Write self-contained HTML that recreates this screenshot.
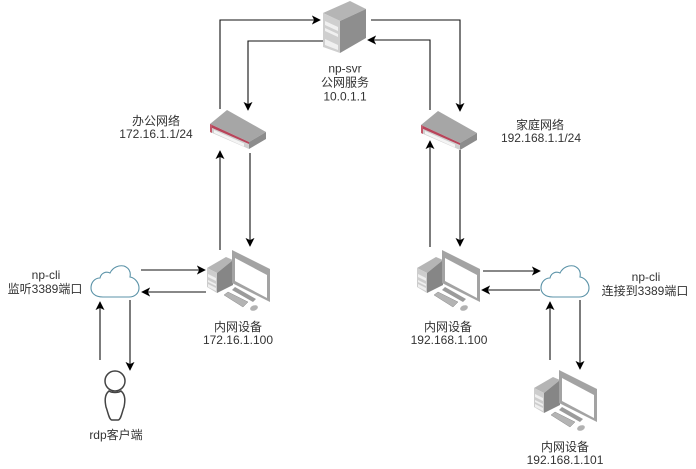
<!DOCTYPE html>
<html>
<head>
<meta charset="utf-8">
<style>
html,body{margin:0;padding:0;background:#fff;width:696px;height:469px;overflow:hidden}
svg{display:block;filter:blur(.3px)}
text{font-family:"Liberation Sans","Noto Sans CJK SC",sans-serif;font-size:12px;fill:#333;text-anchor:middle}
.l{fill:none;stroke:#111;stroke-width:1.1}
</style>
</head>
<body>
<svg width="696" height="469" viewBox="0 0 696 469" xmlns="http://www.w3.org/2000/svg">
<defs>
<marker id="a" viewBox="0 0 10 10" refX="9" refY="5" markerWidth="9" markerHeight="9" markerUnits="userSpaceOnUse" orient="auto">
<path d="M0 0L10 5L0 10L2.5 5Z" fill="#000"/>
</marker>
<g id="router">
<path d="M0 14L17 0L56 22L39 32Z" fill="#a6a6a6"/>
<path d="M0 14L39 32V39L0 22Z" fill="#d0d0d0"/>
<path d="M39 32L56 22V29L39 39Z" fill="#8c8c8c"/>
<path d="M0 14L39 32V34L0 17Z" fill="#b8445a"/>
<path d="M0 14V22L2 23V15Z" fill="#c4596a"/>
<path d="M4 20L34 33.5V36.5L4 23Z" fill="#f4f4f4"/>
</g>
<g id="pc">
<path d="M-25 18L-6 7L1 10L-15 23Z" fill="#b5b5b5"/>
<path d="M-25 18L-15 23V43L-25 37Z" fill="#cdcdcd"/>
<path d="M-15 23L1 10V35L-15 43Z" fill="#868686"/>
<path d="M-24 24L-16 28V31L-24 27ZM-24 30L-16 34V36L-24 32ZM-24 34L-16 38V41L-24 37Z" fill="#efefef"/>
<path d="M0 0L38 19V52L0 33Z" fill="#a3a3a3"/>
<path d="M3 8L35 25V48L3 31Z" fill="#fff"/>
<path d="M3 37L24 49L21 52L0 40Z" fill="#9b9b9b"/>
<path d="M-8 45L-4 42L16 52L11 57Z" fill="#b4b4b4" stroke="#8c8c8c" stroke-width=".5"/>
<ellipse cx="22" cy="58" rx="4" ry="2.6" fill="#b2b2b2" transform="rotate(-20 22 58)"/>
</g>
<path id="cloud" d="M12 32C3 32 0 27 0 23C0 17 4 13 9 13C10 8 15 6 19 8C22 2 28 0 33 1C38 3 40 7 39 12C45 13 48 19 48 23C48 28 44 32 38 32Z" fill="#fff" stroke="#5b93a8" stroke-width="1.1"/>
</defs>

<use href="#router" x="210" y="110"/>
<use href="#router" x="421" y="111"/>

<path d="M323 13L350 1L366 9L340 21Z" fill="#b5b5b5"/>
<path d="M323 13L340 21V53L323 47Z" fill="#cfcfcf"/>
<path d="M340 21L366 9V38L340 53Z" fill="#8e8e8e"/>
<path d="M325 21L338 27V31L325 25ZM325 28L338 34V37L325 31ZM325 39L338 45V50L325 45Z" fill="#f0f0f0"/>

<use href="#pc" x="232" y="250"/>
<use href="#pc" x="442" y="250"/>
<use href="#pc" x="559" y="370"/>

<use href="#cloud" x="91" y="265"/>
<use href="#cloud" x="541" y="265"/>

<circle cx="115" cy="381" r="10" fill="#fff" stroke="#444" stroke-width="1.5"/>
<path d="M109 391C104 395 105 402 106 407C108 412 109 420 112 420H118C121 420 122 412 124 407C125 402 126 395 121 391C118 393 112 393 109 391Z" fill="#fff" stroke="#444" stroke-width="1.5"/>

<g class="l">
<path class="l" d="M220 109V20H320" marker-end="url(#a)"/>
<path class="l" d="M323 41H248V110" marker-end="url(#a)"/>
<path class="l" d="M371 20H460V111" marker-end="url(#a)"/>
<path class="l" d="M430 110V40H368" marker-end="url(#a)"/>
<path class="l" d="M220 250V151" marker-end="url(#a)"/>
<path class="l" d="M250 153V246" marker-end="url(#a)"/>
<path class="l" d="M430 247V141" marker-end="url(#a)"/>
<path class="l" d="M460 150V246" marker-end="url(#a)"/>
<path class="l" d="M141 270H205" marker-end="url(#a)"/>
<path class="l" d="M206 292H142" marker-end="url(#a)"/>
<path class="l" d="M100 360V302" marker-end="url(#a)"/>
<path class="l" d="M130 300V370" marker-end="url(#a)"/>
<path class="l" d="M483 271H540" marker-end="url(#a)"/>
<path class="l" d="M540 290H482" marker-end="url(#a)"/>
<path class="l" d="M550 360V302" marker-end="url(#a)"/>
<path class="l" d="M580 300V369" marker-end="url(#a)"/>
</g>

<text x="345" y="72.5">np-svr</text>
<text x="345" y="86.5">公网服务</text>
<text x="345" y="100.5">10.0.1.1</text>
<text x="156" y="125">办公网络</text>
<text x="156" y="138">172.16.1.1/24</text>
<text x="540" y="129">家庭网络</text>
<text x="541" y="142">192.168.1.1/24</text>
<text x="46" y="279">np-cli</text>
<text x="45" y="293">监听3389端口</text>
<text x="238" y="331">内网设备</text>
<text x="238" y="344">172.16.1.100</text>
<text x="448" y="331">内网设备</text>
<text x="449" y="344">192.168.1.100</text>
<text x="646" y="281">np-cli</text>
<text x="645" y="295">连接到3389端口</text>
<text x="116" y="439">rdp客户端</text>
<text x="565" y="451">内网设备</text>
<text x="565" y="464">192.168.1.101</text>
</svg>
</body>
</html>
